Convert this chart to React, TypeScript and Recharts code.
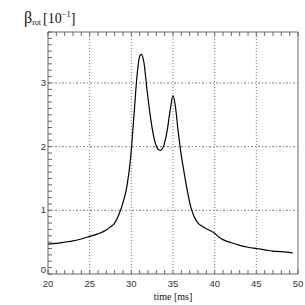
import React from "react";
import { LineChart, Line, XAxis, YAxis, ReferenceLine } from "recharts";

const timeMs = [20, 21, 22, 23, 24, 25, 26, 27, 27.5, 28, 28.5, 29, 29.5, 29.9, 30.3, 30.7, 31.0, 31.2, 31.5, 31.9, 32.3, 32.7, 33.1, 33.45, 33.9, 34.3, 34.7, 35.0, 35.3, 35.6, 35.9, 36.3, 36.7, 37.1, 37.5, 38.0, 38.5, 39.0, 39.5, 40.0, 40.5, 41.0, 42.0, 43.0, 44.0, 45.0, 46.0, 47.0, 48.0, 49.4];
const betaRot = [0.47, 0.48, 0.5, 0.52, 0.55, 0.59, 0.63, 0.69, 0.74, 0.8, 0.93, 1.12, 1.4, 1.81, 2.46, 3.14, 3.42, 3.45, 3.33, 2.87, 2.46, 2.15, 1.98, 1.94, 2.02, 2.25, 2.61, 2.8, 2.62, 2.26, 1.95, 1.62, 1.32, 1.07, 0.91, 0.8, 0.75, 0.71, 0.68, 0.64, 0.58, 0.54, 0.49, 0.45, 0.42, 0.4, 0.38, 0.36, 0.35, 0.33];

const xMajorTicks = [20, 25, 30, 35, 40, 45, 50];
const xGridTicks = [25, 30, 35, 40, 45];
const yMajorTicks = [0, 1, 2, 3];
const yGridTicks = [1, 2, 3];
const xAllTicks = Array.from({ length: 31 }, (_, i) => 20 + i);
const yAllTicks = Array.from({ length: 39 }, (_, i) => i / 10);

const data = timeMs.map((t, i) => ({ t, v: betaRot[i] }));

const AXIS = "#666";
const TXT = "#333";
const TL = 4;

const isMajor = (v: number, arr: number[]) => arr.some((m) => Math.abs(m - v) < 1e-6);

const BottomTick = (p: any) => {
  const { x, y, payload } = p;
  const v = payload.value;
  return (
    <g>
      <line x1={x} y1={y} x2={x} y2={y - TL} stroke={AXIS} strokeWidth={1} />
      {isMajor(v, xMajorTicks) && (
        <text x={x} y={y + 12.5} textAnchor="middle" fontSize={9.5} fontFamily="Liberation Sans, Arial, sans-serif" fill={TXT}>
          {v}
        </text>
      )}
    </g>
  );
};

const TopTick = (p: any) => {
  const { x, y } = p;
  return <line x1={x} y1={y} x2={x} y2={y + TL} stroke={AXIS} strokeWidth={1} />;
};

const LeftTick = (p: any) => {
  const { x, y, payload } = p;
  const v = payload.value;
  return (
    <g>
      <line x1={x} y1={y} x2={x + TL} y2={y} stroke={AXIS} strokeWidth={1} />
      {isMajor(v, yMajorTicks) && (
        <text x={x - 2} y={v === 0 ? y - 1.5 : y + 3} textAnchor="end" fontSize={9.5} fontFamily="Liberation Sans, Arial, sans-serif" fill={TXT}>
          {v}
        </text>
      )}
    </g>
  );
};

const RightTick = (p: any) => {
  const { x, y } = p;
  return <line x1={x} y1={y} x2={x - TL} y2={y} stroke={AXIS} strokeWidth={1} />;
};

export default function App() {
  return (
    <div style={{ position: "absolute", left: 0, top: 0, width: 305, height: 305, background: "#fff" }}>
      <LineChart width={305} height={305} data={data} margin={{ top: 30, right: 5, bottom: 1, left: 8 }}>
        <XAxis
          xAxisId="b"
          dataKey="t"
          type="number"
          domain={[20, 50]}
          ticks={xAllTicks}
          interval={0}
          tickSize={0}
          tickMargin={0}
          tickLine={false}
          height={30}
          stroke={AXIS}
          tick={<BottomTick />}
        />
        <XAxis
          xAxisId="t"
          orientation="top"
          dataKey="t"
          type="number"
          domain={[20, 50]}
          ticks={xAllTicks}
          interval={0}
          tickSize={0}
          tickMargin={0}
          tickLine={false}
          height={2}
          stroke={AXIS}
          tick={<TopTick />}
        />
        <YAxis
          yAxisId="l"
          type="number"
          domain={[0, 3.8]}
          ticks={yAllTicks}
          interval={0}
          tickSize={0}
          tickMargin={0}
          tickLine={false}
          width={40}
          stroke={AXIS}
          tick={<LeftTick />}
        />
        <YAxis
          yAxisId="r"
          orientation="right"
          type="number"
          domain={[0, 3.8]}
          ticks={yAllTicks}
          interval={0}
          tickSize={0}
          tickMargin={0}
          tickLine={false}
          width={2}
          stroke={AXIS}
          tick={<RightTick />}
        />
        {xGridTicks.map((g) => (
          <ReferenceLine key={"x" + g} xAxisId="b" yAxisId="l" x={g} stroke="#555" strokeWidth={0.8} strokeDasharray="1 2" />
        ))}
        {yGridTicks.map((g) => (
          <ReferenceLine key={"y" + g} xAxisId="b" yAxisId="l" y={g} stroke="#555" strokeWidth={0.8} strokeDasharray="2 2 1 2" />
        ))}
        <Line
          xAxisId="b"
          yAxisId="l"
          dataKey="v"
          type="monotone"
          stroke="#000"
          strokeWidth={1.2}
          dot={false}
          isAnimationActive={false}
        />
      </LineChart>
      <svg width={305} height={305} style={{ position: "absolute", left: 0, top: 0, pointerEvents: "none" }}>
        <text x={24} y={23} fontFamily="Liberation Serif, Times New Roman, serif" fill="#111">
          <tspan fontSize={16}>β</tspan>
          <tspan fontSize={8} dy={2}>rot</tspan>
          <tspan fontSize={14} dy={-2} dx={2}>[10</tspan>
          <tspan fontSize={8.5} dy={-6}>−1</tspan>
          <tspan fontSize={14} dy={6}>]</tspan>
        </text>
        <text x={173} y={300} textAnchor="middle" fontSize={10} fontFamily="Liberation Serif, Times New Roman, serif" fill="#111">
          time [ms]
        </text>
      </svg>
    </div>
  );
}
